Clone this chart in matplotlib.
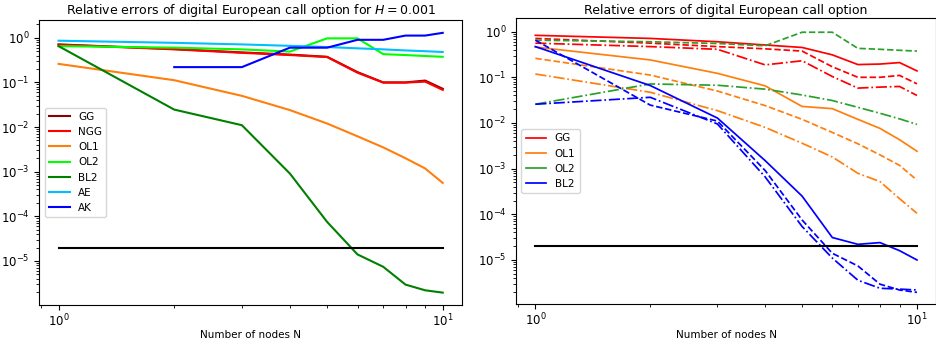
import matplotlib
matplotlib.use("Agg")
import matplotlib.pyplot as plt

nodes = [1, 2, 3, 4, 5, 6, 7, 8, 9, 10]
tol = 2e-5

# left panel, H = 0.001
gg_h001 = [0.71, 0.56, 0.47, 0.42, 0.375, 0.17, 0.10, 0.10, 0.11, 0.072]
ngg_h001 = [0.70, 0.55, 0.46, 0.41, 0.37, 0.165, 0.099, 0.099, 0.104, 0.068]
ol1_h001 = [0.26, 0.112, 0.050, 0.024, 0.012, 0.0062, 0.0035, 0.0020, 0.00118, 5.6e-4]
ol2_h001 = [0.65, 0.60, 0.55, 0.49, 0.97, 0.97, 0.43, 0.41, 0.39, 0.375]
bl2_h001 = [0.65, 0.0246, 0.011, 9.1e-4, 7.5e-5, 1.4e-5, 7.4e-6, 2.95e-6, 2.2e-6, 1.95e-6]
ae_h001 = [0.86, 0.77, 0.71, 0.66, 0.62, 0.58, 0.55, 0.52, 0.50, 0.48]
ak_nodes = [2, 3, 4, 5, 6, 7, 8, 9, 10]
ak_h001 = [0.22, 0.22, 0.60, 0.60, 0.90, 0.90, 1.12, 1.12, 1.29]

# right panel, solid / dashdot parameter sets (dashed = H = 0.001)
gg_solid = [0.83, 0.71, 0.60, 0.51, 0.45, 0.31, 0.19, 0.195, 0.21, 0.138]
gg_dashdot = [0.56, 0.47, 0.41, 0.187, 0.23, 0.104, 0.058, 0.061, 0.063, 0.040]
ol1_solid = [0.46, 0.24, 0.122, 0.065, 0.023, 0.0206, 0.012, 0.0076, 0.0043, 0.0024]
ol1_dashdot = [0.118, 0.047, 0.0186, 0.0080, 0.0036, 0.0018, 7.9e-4, 5.2e-4, 2.2e-4, 1.05e-4]
ol2_dashdot = [0.0257, 0.0715, 0.067, 0.055, 0.041, 0.031, 0.022, 0.0163, 0.0123, 0.0093]
bl2_solid = [0.47, 0.066, 0.0128, 0.0015, 2.5e-4, 3.1e-5, 2.2e-5, 2.4e-5, 1.6e-5, 1.0e-5]
bl2_dashdot = [0.0257, 0.0365, 0.0095, 6.6e-4, 5.4e-5, 1.1e-5, 3.6e-6, 2.4e-6, 2.3e-6, 2.2e-6]

plt.rcParams["font.size"] = 8.5

fig = plt.figure(figsize=(9.37, 3.45), dpi=100)
ax1 = fig.add_axes([0.042, 0.117, 0.451, 0.825])
ax2 = fig.add_axes([0.551, 0.118, 0.448, 0.829])

lw = 1.5
ax1.loglog(nodes, gg_h001, color="darkred", lw=lw, label="GG")
ax1.loglog(nodes, ngg_h001, color="red", lw=lw, label="NGG")
ax1.loglog(nodes, ol1_h001, color="tab:orange", lw=lw, label="OL1")
ax1.loglog(nodes, ol2_h001, color="lime", lw=lw, label="OL2")
ax1.loglog(nodes, bl2_h001, color="green", lw=lw, label="BL2")
ax1.loglog(nodes, ae_h001, color="deepskyblue", lw=lw, label="AE")
ax1.loglog(ak_nodes, ak_h001, color="blue", lw=lw, label="AK")
ax1.loglog(nodes, [tol] * len(nodes), color="black", lw=lw)
ax1.set_ylim(1.05e-6, 2.5)
ax1.set_title("Relative errors of digital European call option for $H = 0.001$", fontsize=9, pad=4)
ax1.set_xlabel("Number of nodes N", fontsize=7.5, labelpad=1)
ax1.legend(loc="center left", fontsize=7.5)

lw2 = 1.25
groups = [
    ("GG", "red", gg_solid, gg_h001, gg_dashdot),
    ("OL1", "tab:orange", ol1_solid, ol1_h001, ol1_dashdot),
    ("OL2", "tab:green", None, ol2_h001, ol2_dashdot),
    ("BL2", "blue", bl2_solid, bl2_h001, bl2_dashdot),
]
for name, color, solid, dashed, dashdot in groups:
    if solid is None:
        ax2.plot([], [], color=color, lw=lw2, label=name)
    else:
        ax2.loglog(nodes, solid, color=color, lw=lw2, label=name)
    ax2.loglog(nodes, dashed, color=color, lw=lw2, ls="--")
    ax2.loglog(nodes, dashdot, color=color, lw=lw2, ls="-.")
ax2.loglog(nodes, [tol] * len(nodes), color="black", lw=1.5)
ax2.set_xscale("log")
ax2.set_yscale("log")
ax2.set_ylim(1.07e-6, 1.96)
ax2.set_title("Relative errors of digital European call option", fontsize=9, pad=3)
ax2.set_xlabel("Number of nodes N", fontsize=7.5, labelpad=1)
ax2.legend(loc="center left", fontsize=7.5)

for ax in (ax1, ax2):
    ax.tick_params(axis="x", which="both", pad=2)

fig.savefig("out.png", dpi=100)
